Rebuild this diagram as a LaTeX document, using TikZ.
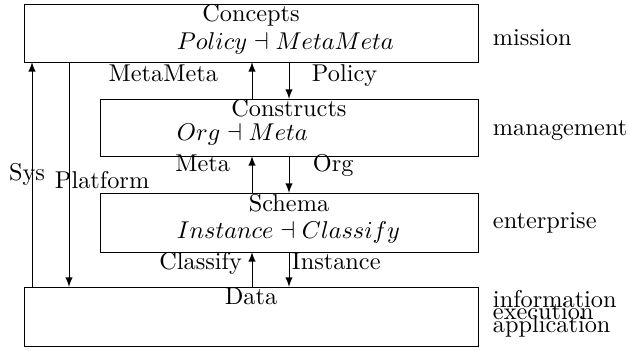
\documentclass[tikz,border=0pt]{standalone}
\usetikzlibrary{arrows}
\begin{document}
\def\u{0.4115pt}
\begin{tikzpicture}[x=0.4115pt,y=-0.4115pt,
  box/.style={draw,inner sep=0pt,outer sep=0pt},
  txt/.style={inner sep=0pt,outer sep=0pt},
  arr/.style={-latex,line width=0.4pt}]
\useasboundingbox (0,0) rectangle (628,350);
% boxes
\node[box,minimum width={454*\u},minimum height={58*\u}] (b1) at (251,33) {};
\node[box,minimum width={378*\u},minimum height={57*\u}] (b2) at (289,127.5) {};
\node[box,minimum width={378*\u},minimum height={59*\u}] (b3) at (289,222.5) {};
\node[box,minimum width={454*\u},minimum height={59*\u}] (b4) at (251,316.5) {};
% box texts
\node[txt,anchor=base] (t1) at (251,21) {Concepts};
\node[txt,anchor=base west] (f1) at (177,49) {$Policy \dashv MetaMeta$};
\node[txt,anchor=base] (t2) at (289,116) {Constructs};
\node[txt,anchor=base west] (f2) at (177,140) {$Org \dashv Meta$};
\node[txt,anchor=base] (t3) at (289,211) {Schema};
\node[txt,anchor=base west] (f3) at (177,238) {$Instance \dashv Classify$};
\node[txt,anchor=base] (t4) at (251,304) {Data};
% arrow columns
\coordinate (cs) at (32,0);
\coordinate (cp) at (69,0);
\coordinate (cu) at (252,0);
\coordinate (cd) at (289,0);
\draw[arr] (b4.north -| cs) -- (b1.south -| cs);
\draw[arr] (b1.south -| cp) -- (b4.north -| cp);
\draw[arr] (b2.north -| cu) -- (b1.south -| cu);
\draw[arr] (b1.south -| cd) -- (b2.north -| cd);
\draw[arr] (b3.north -| cu) -- (b2.south -| cu);
\draw[arr] (b2.south -| cd) -- (b3.north -| cd);
\draw[arr] (b4.north -| cu) -- (b3.south -| cu);
\draw[arr] (b3.south -| cd) -- (b4.north -| cd);
% arrow labels
\node[txt,anchor=base east] (lmm) at (218,81) {MetaMeta};
\node[txt,anchor=base west] (lpol) at (312,81) {Policy};
\node[txt,anchor=base east] (lmeta) at (230,171) {Meta};
\node[txt,anchor=base west] (lorg) at (313,171) {Org};
\node[txt,anchor=base east] (lcla) at (242,269) {Classify};
\node[txt,anchor=base west] (lins) at (292,269) {Instance};
\node[txt,anchor=base west] (lsys) at (9,180) {Sys};
\node[txt,anchor=base west] (lplat) at (55,188) {Platform};
% right labels
\node[txt,anchor=base west] (rmis) at (493,45) {mission};
\node[txt,anchor=base west] (rman) at (493,135) {management};
\node[txt,anchor=base west] (rent) at (493,228) {enterprise};
\node[txt,anchor=base west] (rinf) at (493,307) {information};
\node[txt,anchor=base west] (rexe) at (493,319) {execution};
\node[txt,anchor=base west] (rapp) at (493,332) {application};
\end{tikzpicture}
\end{document}
